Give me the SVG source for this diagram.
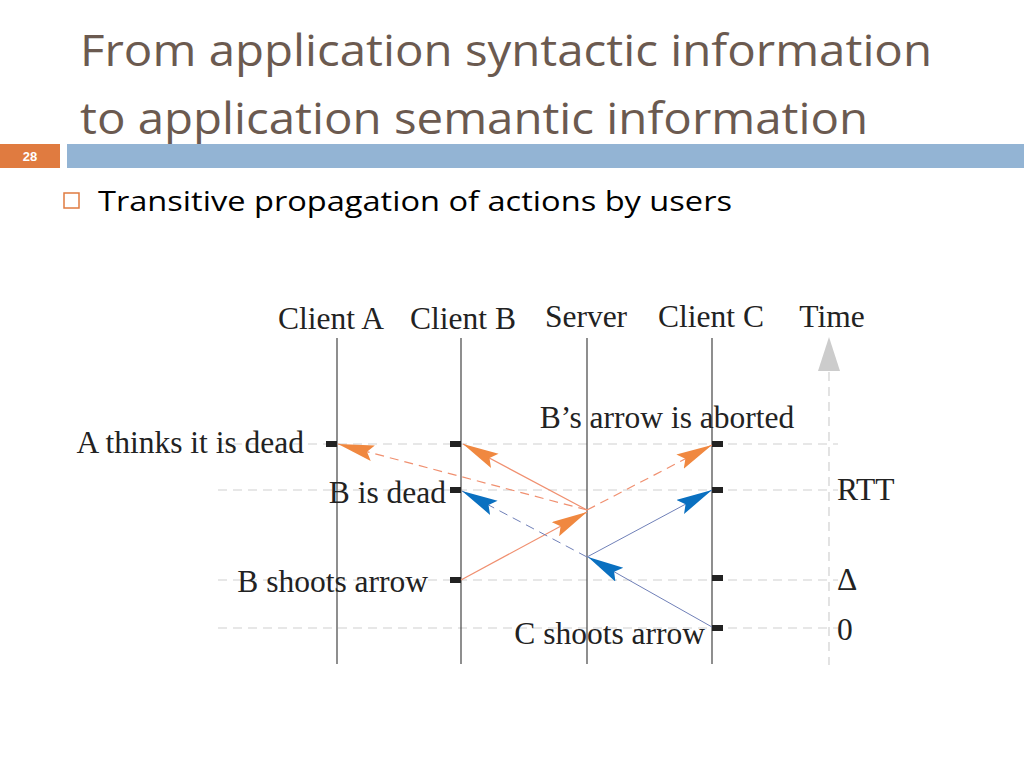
<svg xmlns="http://www.w3.org/2000/svg" width="1024" height="768" viewBox="0 0 1024 768">
<defs>
<style>
.title{font-family:"Open Sans","DejaVu Sans",sans-serif;font-size:44px;fill:#6b5a50}
.t{font-family:"Liberation Serif",serif;font-size:31.5px;fill:#222}
.grid{stroke:#d0d0d0;stroke-width:1.2;stroke-dasharray:9 6}
.life{stroke:#444;stroke-width:1.2}
.tick{fill:#222}
.or{stroke:#f09070;stroke-width:1.2;fill:none}
.bl{stroke:#7080b8;stroke-width:1;fill:none}
.dash{stroke-dasharray:9 6}
</style>
<marker id="ao" markerUnits="userSpaceOnUse" markerWidth="40" markerHeight="20" refX="36" refY="8" orient="auto"><path d="M0,0 L36,8 L0,16 L6,8 Z" fill="#f08840"/></marker>
<marker id="ab" markerUnits="userSpaceOnUse" markerWidth="40" markerHeight="20" refX="36" refY="8" orient="auto"><path d="M0,0 L36,8 L0,16 L6,8 Z" fill="#0a70c0"/></marker>
</defs>
<rect width="1024" height="768" fill="#fff"/>
<g id="header">
<text class="title" x="80" y="66" textLength="852" lengthAdjust="spacingAndGlyphs">From application syntactic information</text>
<text class="title" x="80" y="134" textLength="788" lengthAdjust="spacingAndGlyphs">to application semantic information</text>
<rect x="0" y="144" width="60" height="24" fill="#e07b40"/>
<text x="30" y="161" font-family="Liberation Sans,sans-serif" font-size="13" font-weight="bold" fill="#fff" text-anchor="middle">28</text>
<rect x="67" y="144" width="957" height="24" fill="#93b4d4"/>
<rect x="64" y="193" width="15" height="15" fill="none" stroke="#e07b40" stroke-width="1.5"/>
<text x="98" y="211" font-family="Open Sans,DejaVu Sans,sans-serif" font-size="28" fill="#000" textLength="634" lengthAdjust="spacingAndGlyphs">Transitive propagation of actions by users</text>
</g>
<g id="grid">
<line class="grid" x1="218" y1="444" x2="838" y2="444"/>
<line class="grid" x1="218" y1="490" x2="838" y2="490"/>
<line class="grid" x1="218" y1="580" x2="838" y2="580"/>
<line class="grid" x1="218" y1="628" x2="838" y2="628"/>
<line class="grid" x1="829" y1="372" x2="829" y2="665"/>
<polygon points="818,371 829,337 840,371" fill="#cccccc"/>
</g>
<g id="lifelines">
<line class="life" x1="337" y1="338" x2="337" y2="664"/>
<line class="life" x1="461" y1="338" x2="461" y2="664"/>
<line class="life" x1="587" y1="338" x2="587" y2="664"/>
<line class="life" x1="712" y1="338" x2="712" y2="664"/>
</g>
<g id="ticks">
<rect class="tick" x="326" y="441" width="11" height="6"/>
<rect class="tick" x="450" y="441" width="11" height="6"/>
<rect class="tick" x="450" y="487" width="11" height="6"/>
<rect class="tick" x="450" y="577" width="11" height="6"/>
<rect class="tick" x="712" y="441" width="11" height="6"/>
<rect class="tick" x="712" y="487" width="11" height="6"/>
<rect class="tick" x="712" y="575" width="11" height="6"/>
<rect class="tick" x="712" y="625" width="11" height="6"/>
</g>
<g id="connectors">
<line class="or" x1="461" y1="580" x2="587" y2="512" marker-end="url(#ao)"/>
<line class="or" x1="587" y1="510" x2="463" y2="444" marker-end="url(#ao)"/>
<line class="or dash" x1="587" y1="510" x2="338" y2="444" marker-end="url(#ao)"/>
<line class="or dash" x1="587" y1="510" x2="712" y2="445" marker-end="url(#ao)"/>
<line class="bl" x1="712" y1="627" x2="588" y2="557" marker-end="url(#ab)"/>
<line class="bl" x1="587" y1="557" x2="712" y2="490" marker-end="url(#ab)"/>
<line class="bl dash" x1="587" y1="557" x2="462" y2="491" marker-end="url(#ab)"/>
</g>
<g id="labels">
<text class="t" x="331" y="329" text-anchor="middle">Client A</text>
<text class="t" x="463" y="329" text-anchor="middle">Client B</text>
<text class="t" x="586" y="327" text-anchor="middle">Server</text>
<text class="t" x="711" y="327" text-anchor="middle">Client C</text>
<text class="t" x="832" y="327" text-anchor="middle">Time</text>
<text class="t" x="667" y="428" text-anchor="middle">B’s arrow is aborted</text>
<text class="t" x="304" y="453" text-anchor="end">A thinks it is dead</text>
<text class="t" x="446" y="503" text-anchor="end">B is dead</text>
<text class="t" x="428" y="592" text-anchor="end">B shoots arrow</text>
<text class="t" x="705" y="644" text-anchor="end">C shoots arrow</text>
<text class="t" x="837" y="500">RTT</text>
<text class="t" x="837" y="590">Δ</text>
<text class="t" x="837" y="640">0</text>
</g>
</svg>
